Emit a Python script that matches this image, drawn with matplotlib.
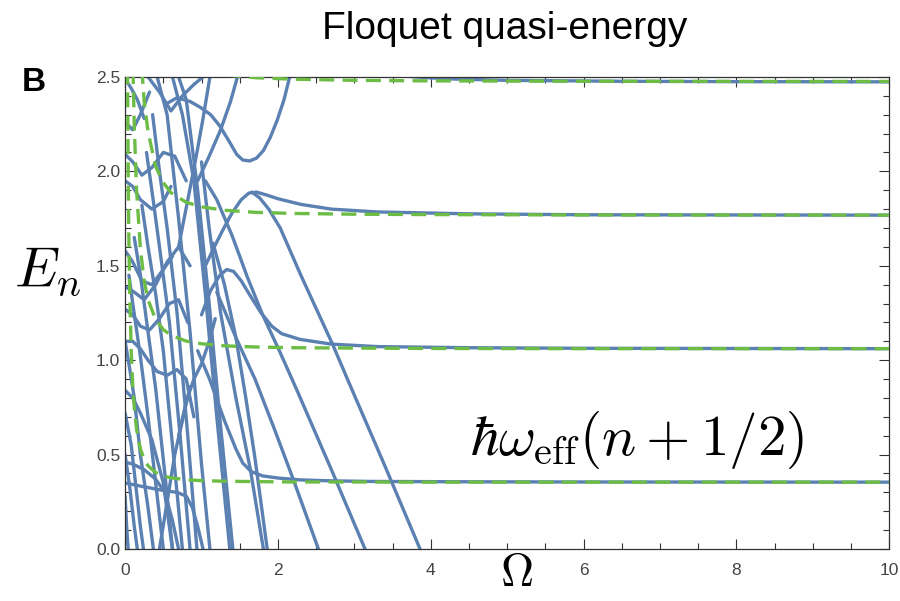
import matplotlib
matplotlib.use("Agg")
import matplotlib.pyplot as plt
from matplotlib.ticker import MultipleLocator

# ---------------- data ----------------
# green dashed curves  hbar*omega_eff*(n+1/2)
dash_x = [0.02, 0.03, 0.04, 0.05, 0.06, 0.08, 0.10, 0.12, 0.15, 0.2, 0.25, 0.3,
          0.4, 0.5, 0.6, 0.8, 1.0, 1.3, 1.7, 2.2, 3.0, 4.0, 6.0, 10.0]
dash_n0 = [3.97, 2.66, 2.00, 1.62, 1.364, 1.050, 0.866, 0.748, 0.635, 0.530, 0.474, 0.441,
           0.405, 0.387, 0.377, 0.367, 0.362, 0.359, 0.357, 0.355, 0.355, 0.354, 0.354, 0.354]
dash_n1 = [11.9, 7.98, 6.02, 4.86, 4.09, 3.15, 2.60, 2.24, 1.90, 1.59, 1.42, 1.32,
           1.215, 1.162, 1.132, 1.101, 1.087, 1.076, 1.070, 1.066, 1.064, 1.062, 1.061, 1.061]
dash_n2 = [19.9, 13.3, 10.0, 8.1, 6.82, 5.25, 4.33, 3.74, 3.17, 2.65, 2.37, 2.21,
           2.025, 1.94, 1.887, 1.836, 1.812, 1.794, 1.783, 1.777, 1.773, 1.771, 1.769, 1.768]
dash_n3 = [27.8, 18.6, 14.0, 11.3, 9.55, 7.35, 6.06, 5.23, 4.44, 3.71, 3.32, 3.09,
           2.84, 2.71, 2.64, 2.57, 2.536, 2.511, 2.496, 2.488, 2.482, 2.479, 2.477, 2.476]

# blue Floquet quasi-energy branches: (x list, y list)
level_0 = ([0.95, 1.11, 1.30, 1.45, 1.54, 1.65, 1.80, 2.00, 2.29, 2.70, 3.20, 4.50, 6.0, 10.0],
           [1.05, 0.895, 0.68, 0.53, 0.455, 0.41, 0.387, 0.376, 0.366, 0.361, 0.358, 0.356, 0.355, 0.354])
level_1 = ([1.00, 1.12, 1.24, 1.33, 1.42, 1.52, 1.64, 1.78, 1.92, 2.05, 2.29, 2.70, 3.30, 4.50, 6.0, 10.0],
           [1.24, 1.37, 1.45, 1.48, 1.47, 1.42, 1.34, 1.25, 1.18, 1.14, 1.11, 1.085, 1.072, 1.066, 1.063, 1.061])
level_2 = ([1.05, 1.18, 1.28, 1.40, 1.52, 1.62, 1.72, 1.85, 2.00, 2.30, 2.70, 3.30, 4.50, 6.0, 10.0],
           [1.50, 1.61, 1.69, 1.78, 1.85, 1.885, 1.89, 1.875, 1.855, 1.825, 1.80, 1.785, 1.775, 1.770, 1.768])
level_3 = ([3.55, 3.80, 4.20, 5.00, 6.50, 8.00, 10.0],
           [2.51, 2.50, 2.49, 2.482, 2.477, 2.475, 2.474])
u_curve = ([0.55, 0.68, 0.85, 0.98, 1.12, 1.24, 1.36, 1.46, 1.54, 1.63, 1.72, 1.81, 1.90, 1.99, 2.08, 2.16],
           [2.36, 2.39, 2.37, 2.34, 2.30, 2.24, 2.16, 2.09, 2.06, 2.055, 2.07, 2.11, 2.18, 2.27, 2.38, 2.51])
line_1 = ([1.66, 1.76, 1.88, 2.03, 2.30, 2.72, 2.92, 3.40, 3.86],
          [1.89, 1.86, 1.80, 1.70, 1.45, 1.08, 0.89, 0.44, 0.0])
line_2 = ([1.05, 1.20, 1.40, 1.60, 1.80, 2.03, 2.25, 2.70, 3.14],
          [1.95, 1.85, 1.66, 1.44, 1.24, 1.04, 0.84, 0.42, 0.0])
line_3 = ([1.20, 1.45, 1.70, 1.94, 2.20, 2.53],
          [1.36, 1.12, 0.90, 0.65, 0.37, 0.0])
rise_1 = ([0.70, 0.85, 0.94, 1.02, 1.11],
          [1.60, 1.91, 2.10, 2.28, 2.50])
rise_2 = ([0.95, 1.10, 1.25, 1.38, 1.47],
          [1.95, 2.08, 2.22, 2.37, 2.50])
tangle = [
    ([0.00, 0.02, 0.04], [0.28, 0.12, 0.0]),
    ([0.00, 0.06, 0.12, 0.16], [0.50, 0.33, 0.12, 0.0]),
    ([0.00, 0.08, 0.15, 0.20, 0.24], [0.72, 0.55, 0.30, 0.12, 0.0]),
    ([0.00, 0.05, 0.12, 0.20, 0.30, 0.37], [1.10, 0.98, 0.80, 0.50, 0.22, 0.0]),
    ([0.05, 0.10, 0.20, 0.30, 0.42, 0.50], [1.45, 1.30, 1.02, 0.70, 0.28, 0.0]),
    ([0.12, 0.20, 0.30, 0.40, 0.52, 0.62], [1.65, 1.45, 1.15, 0.85, 0.40, 0.0]),
    ([0.22, 0.30, 0.40, 0.50, 0.62, 0.75], [1.82, 1.60, 1.35, 1.05, 0.55, 0.0]),
    ([0.28, 0.35, 0.45, 0.58, 0.72, 0.85], [2.10, 1.90, 1.60, 1.20, 0.60, 0.0]),
    ([0.36, 0.45, 0.55, 0.68, 0.82, 0.94], [2.30, 2.00, 1.70, 1.25, 0.60, 0.0]),
    ([0.42, 0.55, 0.70, 0.85, 1.00, 1.11], [2.50, 2.30, 1.75, 1.15, 0.45, 0.0]),
    ([0.62, 0.75, 0.90, 1.05, 1.20, 1.37], [2.50, 2.30, 1.95, 1.35, 0.70, 0.0]),
    ([0.70, 0.80, 0.95, 1.10, 1.25, 1.41], [2.50, 2.38, 1.90, 1.30, 0.65, 0.0]),
    ([1.00, 1.10, 1.25, 1.45, 1.64, 1.81], [2.05, 1.70, 1.25, 0.80, 0.42, 0.0]),
    ([1.15, 1.30, 1.45, 1.58, 1.70, 1.86], [1.62, 1.40, 1.12, 0.80, 0.48, 0.0]),
    ([0.00, 0.24, 0.50, 0.68, 0.80, 0.88, 0.95, 1.02], [0.35, 0.33, 0.31, 0.30, 0.28, 0.22, 0.12, 0.0]),
    ([0.00, 0.10, 0.25, 0.40, 0.52, 0.62, 0.70], [0.46, 0.45, 0.42, 0.37, 0.30, 0.15, 0.0]),
    ([0.00, 0.10, 0.20, 0.35, 0.50, 0.62], [0.84, 0.80, 0.72, 0.58, 0.35, 0.0]),
    ([0.00, 0.10, 0.20, 0.30, 0.42, 0.55, 0.68, 0.80, 0.90], [1.10, 1.10, 1.06, 1.00, 0.94, 0.92, 0.95, 0.90, 0.70]),
    ([0.00, 0.10, 0.20, 0.32, 0.45, 0.58, 0.70, 0.82], [1.27, 1.24, 1.18, 1.16, 1.22, 1.30, 1.32, 1.20]),
    ([0.00, 0.10, 0.22, 0.35, 0.50, 0.62], [1.58, 1.52, 1.42, 1.40, 1.48, 1.55]),
    ([0.00, 0.12, 0.25, 0.40, 0.55, 0.70, 0.85], [1.39, 1.36, 1.32, 1.40, 1.52, 1.60, 1.50]),
    ([0.00, 0.10, 0.20, 0.35, 0.50, 0.60], [1.95, 1.92, 1.85, 1.80, 1.84, 1.92]),
    ([0.00, 0.10, 0.22, 0.35, 0.50, 0.65, 0.80], [2.09, 2.05, 1.98, 2.02, 2.10, 2.08, 1.95]),
    ([0.00, 0.10, 0.20, 0.32], [2.26, 2.22, 2.30, 2.42]),
    ([0.00, 0.08, 0.16, 0.25], [2.49, 2.44, 2.38, 2.28]),
    ([0.30, 0.45, 0.60, 0.75, 0.90, 1.02], [2.50, 2.42, 2.32, 2.40, 2.46, 2.50]),
    ([0.45, 0.55, 0.65, 0.75, 0.85], [0.00, 0.25, 0.50, 0.68, 0.86]),
    ([0.70, 0.80, 0.90, 1.00, 1.10, 1.18], [0.60, 0.78, 0.90, 0.98, 1.10, 1.22]),
]

blue_curves = [level_0, level_1, level_2, level_3, u_curve, line_1, line_2, line_3,
               rise_1, rise_2] + tangle
green_curves = [dash_n0, dash_n1, dash_n2, dash_n3]

x_ticks = [0, 2, 4, 6, 8, 10]
y_ticks = [0.0, 0.5, 1.0, 1.5, 2.0, 2.5]

# ---------------- drawing ----------------
BLUE = "#5b80b2"
GREEN = "#6dbd45"
plt.rcParams["font.family"] = ["Liberation Sans", "DejaVu Sans"]
plt.rcParams["mathtext.fontset"] = "cm"

fig = plt.figure(figsize=(9.0, 6.01), dpi=100)
ax = fig.add_axes([0.139, 0.0865, 0.849, 0.7855])

for xs, ys in blue_curves:
    ax.plot(xs, ys, color=BLUE, lw=2.4, solid_capstyle="round", solid_joinstyle="round", zorder=2)
for ys in green_curves:
    ax.plot(dash_x, ys, color=GREEN, lw=2.4, dashes=(4.5, 2.5), zorder=3)

ax.set_xlim(0, 10)
ax.set_ylim(0, 2.5)
ax.set_xticks(x_ticks)
ax.set_xticklabels([str(t) for t in x_ticks])
ax.set_yticks(y_ticks)
ax.set_yticklabels([f"{t:.1f}" for t in y_ticks])
ax.xaxis.set_minor_locator(MultipleLocator(0.5))
ax.yaxis.set_minor_locator(MultipleLocator(0.1))
ax.tick_params(which="both", direction="in", top=True, right=True,
               colors="#333333", labelcolor="#444444", labelsize=12.5, width=0.8)
ax.tick_params(which="major", length=7)
ax.tick_params(which="minor", length=4)
ax.tick_params(axis="x", pad=10)
for s in ax.spines.values():
    s.set_color("#333333")
    s.set_linewidth(0.9)

fig.text(0.561, 0.952, "Floquet quasi-energy", ha="center", va="center", fontsize=28)
fig.text(0.024, 0.862, "B", ha="left", va="center", fontsize=24, fontweight="bold")
fig.text(0.016, 0.548, r"$E_n$", ha="left", va="center", fontsize=41)
fig.text(0.574, 0.045, r"$\Omega$", ha="center", va="center", fontsize=33)
ax.text(0.67, 0.231, r"$\hbar\omega_{\rm eff}(n+1/2)$", transform=ax.transAxes,
        ha="center", va="center", fontsize=41)

fig.savefig("out.png", dpi=100)
